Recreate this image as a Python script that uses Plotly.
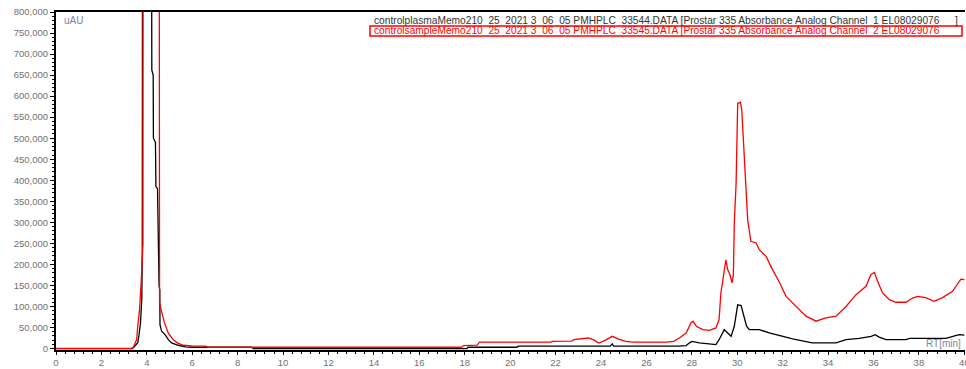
import plotly.graph_objects as go

# Retention time (min) and absorbance (uAU) for the control plasma run
control_t = [0.0, 3.35, 3.42, 3.5, 3.6, 3.65, 3.72, 3.78, 3.8, 3.81, 4.0, 4.2, 4.21, 4.22, 4.28, 4.29,
             4.38, 4.4, 4.47, 4.49, 4.52, 4.54, 4.57, 4.58, 4.65, 4.8, 4.95, 5.09, 5.38, 5.7, 6.0,
             8.6, 8.7, 18.1, 18.15, 20.3, 20.35, 24.4, 24.5, 24.55, 27.4, 27.75, 27.9, 28.0, 28.33,
             29.06, 29.2, 29.43, 29.58, 29.73, 29.87, 30.02, 30.17, 30.31, 30.41, 30.53, 30.97,
             31.41, 32.0, 32.44, 33.3, 34.35, 34.79, 35.37, 35.9, 36.07, 36.25, 36.55, 37.43,
             37.6, 39.19, 39.77, 40.0]
control_v = [0, 0, 2400, 8000, 14000, 30000, 60000, 120000, 243000, 1200000, 2000000,
             1200000, 900000, 662000, 650000, 500000, 490000, 385000, 380000, 306000, 300000,
             148000, 140000, 57000, 41000, 33000, 21000, 13500, 7800, 4000, 3000,
             3000, 0, 0, 3000, 3000, 5500, 5500, 11000, 5500, 5500, 7000, 13500, 17000, 13500,
             9500, 21000, 45000, 37000, 29000, 53000, 104000, 102000, 77000, 53000, 45000, 45000,
             37000, 29000, 23000, 13500, 13500, 21000, 24000, 29000, 33000, 27000, 21000, 21000,
             24000, 24000, 33000, 32000]

# Retention time (min) and absorbance (uAU) for the sample run
sample_t = [0.0, 3.3, 3.4, 3.45, 3.55, 3.6, 3.68, 3.75, 3.83, 3.84, 4.2, 4.54, 4.55, 4.56, 4.7,
            4.78, 4.94, 5.16, 5.35, 5.6, 6.0, 6.6, 6.7, 17.85, 17.95, 18.55, 18.65, 21.8, 21.85,
            22.7, 22.8, 23.3, 23.45, 23.7, 23.9, 24.2, 24.5, 24.8, 25.1, 25.4, 26.9, 27.2, 27.45,
            27.75, 27.97, 28.05, 28.2, 28.48, 28.77, 29.06, 29.2, 29.28, 29.4, 29.5, 29.58, 29.68,
            29.77, 29.83, 29.87, 29.95, 30.02, 30.14, 30.2, 30.27, 30.36, 30.46, 30.6, 30.83,
            30.97, 31.27, 31.56, 31.85, 32.15, 32.44, 32.73, 33.03, 33.47, 33.9, 34.35, 34.79,
            35.23, 35.67, 35.89, 36.04, 36.18, 36.4, 36.7, 36.99, 37.43, 37.72, 37.94, 38.3,
            38.67, 39.04, 39.48, 39.85, 40.0]
sample_v = [500, 500, 2400, 8000, 21000, 53000, 93000, 157000, 250000, 1500000, 2500000, 1500000,
            900000, 109000, 77000, 61000, 37000, 21000, 13500, 7800, 6500, 5500, 3000, 3000, 7000,
            8000, 15000, 15000, 17000, 17500, 21000, 23000, 25000, 20000, 13000, 20000, 29000,
            22000, 17000, 15000, 15000, 17000, 25000, 37000, 62000, 65000, 53000, 45000, 43000,
            49000, 69000, 132000, 172000, 211000, 187000, 176000, 156000, 175000, 298000, 393000,
            583000, 585000, 567000, 496000, 401000, 306000, 255000, 251000, 235000, 219000, 187000,
            158000, 124000, 108000, 93000, 77000, 65000, 73000, 77000, 100000, 128000, 148000,
            176000, 181000, 160000, 132000, 116000, 110000, 110000, 120000, 124000, 121000, 112000,
            121000, 136000, 165000, 164000]

control_name = ("controlplasmaMemo210  25  2021 3  06  05 PMHPLC  33544.DATA "
                "[Prostar 335 Absorbance Analog Channel  1 EL08029076")
sample_name = ("controlsampleMemo210  25  2021 3  06  05 PMHPLC  33545.DATA "
               "[Prostar 335 Absorbance Analog Channel  2 EL08029076")

W, H = 966, 369
ML, MR, MT, MB = 56, 1, 12, 19
PW, PH = W - ML - MR, H - MT - MB


def px(x):
    return (x - ML) / PW


def py(y):
    return (H - MB - y) / PH


fig = go.Figure()
fig.add_trace(go.Scatter(x=control_t, y=control_v, mode="lines", name=control_name,
                         line=dict(color="#000000", width=1.3)))
fig.add_trace(go.Scatter(x=sample_t, y=sample_v, mode="lines", name=sample_name,
                         line=dict(color="#ff0000", width=1.3)))

axis_font = dict(family="Liberation Sans, Arial, sans-serif", size=9.5, color="#707070")

fig.update_layout(
    width=W, height=H,
    margin=dict(l=ML, r=MR, t=MT, b=MB, pad=0),
    paper_bgcolor="white", plot_bgcolor="white",
    showlegend=False,
    xaxis=dict(range=[0, 40.03], dtick=2, tick0=0, showgrid=False, zeroline=False,
               automargin=False, ticklabeloverflow="allow",
               showline=True, linecolor="#000000", linewidth=2, mirror=True,
               ticks="outside", ticklen=3, tickcolor="#000000", tickwidth=1,
               minor=dict(dtick=0.4, ticks="outside", ticklen=2, tickcolor="#000000"),
               tickfont=axis_font),
    yaxis=dict(range=[-3500, 800001], dtick=50000, tick0=0, tickformat=",d",
               showgrid=False, zeroline=False, automargin=False, ticklabeloverflow="allow",
               showline=True, linecolor="#000000", linewidth=2,
               ticks="outside", ticklen=4, tickcolor="#000000", tickwidth=1,
               minor=dict(dtick=10000, ticks="outside", ticklen=2, tickcolor="#000000"),
               tickfont=axis_font),
)

text_font = dict(family="Liberation Sans, Arial, sans-serif", size=10.2)
label_font = dict(family="Liberation Sans, Arial, sans-serif", size=10, color="#7a86a8")
fig.add_annotation(x=px(62), y=py(20), xref="paper", yref="paper", text="uAU",
                   showarrow=False, xanchor="left", yanchor="middle", font=label_font)
fig.add_annotation(x=px(963), y=py(343), xref="paper", yref="paper", text="RT[min]",
                   showarrow=False, xanchor="right", yanchor="middle", font=label_font)
fig.add_annotation(x=px(372), y=py(20), xref="paper", yref="paper", text=control_name,
                   showarrow=False, xanchor="left", yanchor="middle",
                   font=dict(color="#333333", **text_font))
fig.add_annotation(x=px(960), y=py(20), xref="paper", yref="paper", text="]",
                   showarrow=False, xanchor="right", yanchor="middle",
                   font=dict(color="#333333", **text_font))
fig.add_annotation(x=px(372), y=py(31), xref="paper", yref="paper", text=sample_name,
                   showarrow=False, xanchor="left", yanchor="middle",
                   font=dict(color="#ff0000", **text_font))
fig.add_shape(type="rect", xref="paper", yref="paper",
              x0=px(370), x1=px(962), y0=py(36), y1=py(26),
              line=dict(color="#ff0000", width=1.5))

fig.write_html("out.html")
